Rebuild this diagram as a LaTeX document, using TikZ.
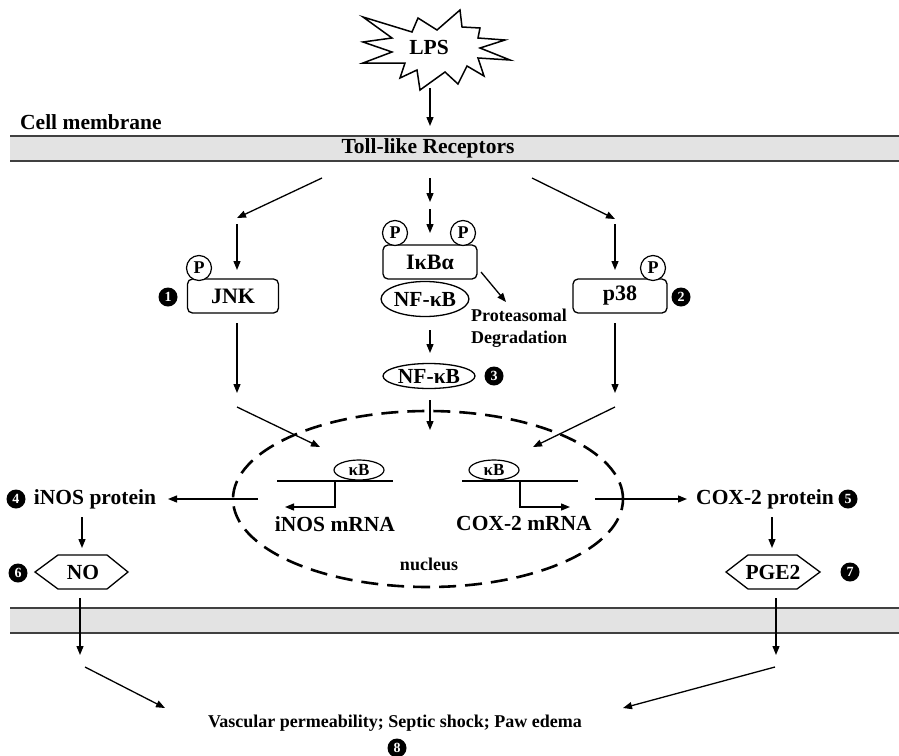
\documentclass[tikz,border=0pt]{standalone}
\usepackage{fontspec}
\setmainfont{Liberation Serif}
\usetikzlibrary{arrows.meta,shapes.geometric,calc}
\begin{document}
\begin{tikzpicture}[x=1pt,y=-1pt,
  lbl/.style={font=\fontsize{21.5}{25}\selectfont\bfseries, inner sep=0pt},
  sml/.style={font=\fontsize{18}{21}\selectfont\bfseries, inner sep=0pt},
  arr/.style={line width=1.3pt, -{Triangle[length=9pt,width=7pt]}},
  ln/.style={line width=1.3pt},
  rbox/.style={draw, line width=1.3pt, rounded corners=5pt, minimum height=34pt, inner sep=0pt, font=\fontsize{22}{24}\selectfont\bfseries},
  pcirc/.style={draw, circle, line width=1.2pt, fill=white, minimum size=25pt, inner sep=0pt, font=\fontsize{18}{18}\selectfont\bfseries},
  num/.style={circle, fill=black, text=white, minimum size=19pt, inner sep=0pt, font=\fontsize{14}{14}\selectfont\bfseries},
  oval/.style={draw, ellipse, line width=1.3pt, inner sep=0pt, font=\fontsize{21.5}{24}\selectfont\bfseries},
  kb/.style={draw, ellipse, line width=1.2pt, inner sep=0pt, minimum width=50pt, minimum height=20pt, font=\fontsize{17}{17}\selectfont\bfseries},
  mem/.style={line width=1.8pt, black!75},
  hex/.style={line width=1.3pt}
]
\useasboundingbox (0,0) rectangle (899,755);

% membranes
\fill[gray!22] (10,136) rectangle (899,161);
\draw[mem] (10,136) -- (899,136);
\draw[mem] (10,161) -- (899,161);
\fill[gray!22] (10,608) rectangle (899,633);
\draw[mem] (10,608) -- (899,608);
\draw[mem] (10,633) -- (899,633);
\node[lbl] (tlr) at (428,148) {Toll-like Receptors};
\node[lbl, anchor=west] (cm) at (20,122) {Cell membrane};

% LPS starburst
\draw[line width=1.5pt, fill=white] (363,17) -- (412,32) -- (418,18) -- (437,30) -- (460,10) -- (462,27) -- (480,28) -- (478,38) -- (505,40) -- (480,48) -- (510,60) -- (478,58) -- (484,76) -- (467,66) -- (458,84) -- (445,72) -- (420,90) -- (417,70) -- (400,78) -- (405,63) -- (363,63) -- (392,52) -- (363,42) -- (392,38) -- cycle;
\node[lbl] (lps) at (429,47) {LPS};
\coordinate (lpsb) at (430,88);
\coordinate (tlrt) at (430,126);
\draw[arr] (lpsb) -- (tlrt);

% arrows below membrane
\coordinate (tl1) at (322,178); \coordinate (tl2) at (237,218);
\coordinate (c1) at (430,178); \coordinate (c2) at (430,202);
\coordinate (c3) at (430,209); \coordinate (c4) at (430,233);
\coordinate (tr1) at (532,178); \coordinate (tr2) at (615,219);
\draw[arr] (tl1) -- (tl2);
\draw[arr] (c1) -- (c2);
\draw[arr] (c3) -- (c4);
\draw[arr] (tr1) -- (tr2);
\coordinate (jv1) at (237,224); \coordinate (jv2) at (237,270);
\coordinate (pv1) at (615,224); \coordinate (pv2) at (615,270);
\draw[arr] (jv1) -- (jv2);
\draw[arr] (pv1) -- (pv2);

% JNK
\node[rbox, minimum width=91pt] (jnk) at (233,296) {JNK};
\node[pcirc] (jnkp) at (199,268) {P};
\node[num] (n1) at (168,297) {1};

% p38
\node[rbox, minimum width=94pt] (p38) at (620,296) {p38};
\node[pcirc] (p38p) at (653,268) {P};
\node[num] (n2) at (681,297) {2};

% IkBa / NF-kB
\node[rbox, minimum width=94pt] (ikb) at (430,262) {IκBα};
\node[pcirc] (ikbp1) at (395,233) {P};
\node[pcirc] (ikbp2) at (463,233) {P};
\node[oval, minimum width=86pt, minimum height=35pt] (nfkb1) at (425,299) {NF-κB};
\coordinate (dg1) at (481,272); \coordinate (dg2) at (506,302);
\draw[arr] (dg1) -- (dg2);
\node[sml, anchor=west, align=left] (deg) at (471,328) {Proteasomal\\[1pt]Degradation};

\coordinate (nf1) at (430,330); \coordinate (nf2) at (430,353);
\draw[arr] (nf1) -- (nf2);
\node[oval, minimum width=92pt, minimum height=25pt] (nfkb2) at (429,376) {NF-κB};
\node[num] (n3) at (494,376) {3};
\coordinate (nf3) at (430,400); \coordinate (nf4) at (430,430);
\draw[arr] (nf3) -- (nf4);

% JNK / p38 down
\coordinate (jd1) at (237,323); \coordinate (jd2) at (237,393);
\coordinate (pd1) at (615,323); \coordinate (pd2) at (615,393);
\draw[arr] (jd1) -- (jd2);
\draw[arr] (pd1) -- (pd2);
\coordinate (ld1) at (237,407); \coordinate (ld2) at (320,447);
\coordinate (rd1) at (615,407); \coordinate (rd2) at (533,447);
\draw[arr] (ld1) -- (ld2);
\draw[arr] (rd1) -- (rd2);

% nucleus
\node[draw, ellipse, line width=2.6pt, dash pattern=on 17pt off 9pt, minimum width=390pt, minimum height=176pt, inner sep=0pt] (nuc) at (428,499) {};
\node[sml] (nuclbl) at (429,564) {nucleus};

% genes
\coordinate (gl1) at (277,481); \coordinate (gl2) at (393,481);
\draw[ln] (gl1) -- (gl2);
\node[kb] (kbl) at (359,470) {κB};
\coordinate (glp) at (335,481); \coordinate (gle) at (285,507);
\draw[arr] (glp) |- (gle);
\node[lbl] (inosm) at (335,524) {iNOS mRNA};

\coordinate (gr1) at (462,481); \coordinate (gr2) at (578,481);
\draw[ln] (gr1) -- (gr2);
\node[kb] (kbr) at (494,470) {κB};
\coordinate (grp) at (520,481); \coordinate (gre) at (570,507);
\draw[arr] (grp) |- (gre);
\node[lbl] (coxm) at (524,523) {COX-2 mRNA};

% export
\coordinate (el1) at (258,499); \coordinate (el2) at (168,499);
\draw[arr] (el1) -- (el2);
\coordinate (er1) at (595,499); \coordinate (er2) at (687,499);
\draw[arr] (er1) -- (er2);
\node[lbl] (inosp) at (95,499) {iNOS protein};
\node[num] (n4) at (16,499) {4};
\node[lbl] (coxp) at (765,499) {COX-2 protein};
\node[num] (n5) at (848,499) {5};

\coordinate (id1) at (82,517); \coordinate (id2) at (82,548);
\draw[arr] (id1) -- (id2);
\coordinate (cd1) at (772,517); \coordinate (cd2) at (772,548);
\draw[arr] (cd1) -- (cd2);

% NO hexagon
\draw[hex] (35,572) -- (58,555) -- (107,555) -- (128,572) -- (107,589) -- (58,589) -- cycle;
\node[lbl] (no) at (83,572) {NO};
\node[num] (n6) at (18,573) {6};
% PGE2 hexagon
\draw[hex] (726,572) -- (748,555) -- (797,555) -- (820,572) -- (797,589) -- (748,589) -- cycle;
\node[lbl] (pge) at (773,572) {PGE2};
\node[num] (n7) at (850,572) {7};

\coordinate (nd1) at (80,598); \coordinate (nd2) at (80,655);
\draw[arr] (nd1) -- (nd2);
\coordinate (gd1) at (776,598); \coordinate (gd2) at (776,655);
\draw[arr] (gd1) -- (gd2);

\coordinate (bl1) at (85,667); \coordinate (bl2) at (165,708);
\draw[arr] (bl1) -- (bl2);
\coordinate (br1) at (775,667); \coordinate (br2) at (623,708);
\draw[arr] (br1) -- (br2);

\node[sml] (effects) at (395,723) {Vascular permeability; Septic shock; Paw edema};
\node[num] (n8) at (397,748) {8};
\end{tikzpicture}
\end{document}
